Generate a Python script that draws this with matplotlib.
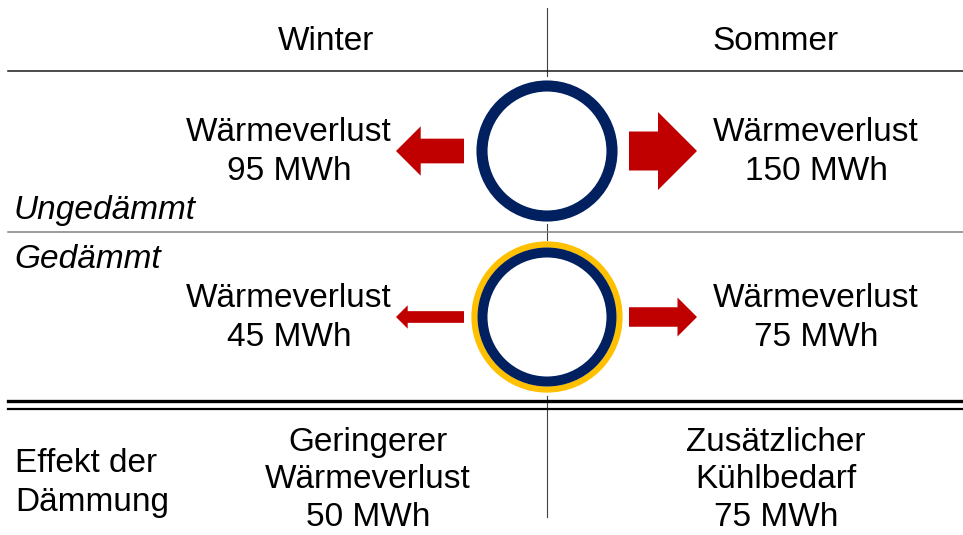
import matplotlib.pyplot as plt
from matplotlib.patches import Circle

plt.rcParams['font.family'] = ['Liberation Sans', 'DejaVu Sans']

seasons = ["Winter", "Sommer"]
row_labels = ["Ungedämmt", "Gedämmt"]
loss_winter = [95, 45]      # MWh
loss_summer = [150, 75]     # MWh
effect_labels = ["Geringerer\nWärmeverlust", "Zusätzlicher\nKühlbedarf"]
effect_values = [50, 75]    # MWh
effect_title = "Effekt der\nDämmung"

navy = "#002060"
gold = "#FFC000"
red = "#C00000"
fs = 24
ls = 1.32

fig = plt.figure(figsize=(9.63, 5.35), dpi=100)
ax = fig.add_axes([0, 0, 1, 1])
ax.set_xlim(0, 963)
ax.set_ylim(535, 0)
ax.axis('off')

cx = 547
row_y = [151, 317]

# grid lines
ax.plot([cx, cx], [8, 76], color="#404040", lw=0.8)
ax.plot([cx, cx], [224, 240], color="#404040", lw=0.8)
ax.plot([cx, cx], [396, 517], color="#404040", lw=0.8)
ax.plot([8, 963], [71, 71], color="#1a1a1a", lw=1.1)
ax.plot([8, 963], [232, 232], color="#808080", lw=1.1)
ax.plot([8, 963], [401, 401], color="black", lw=2.4)
ax.plot([8, 963], [409, 409], color="black", lw=1.6)

# header
ax.text(326, 42, seasons[0], ha='center', va='center', fontsize=fs)
ax.text(776, 42, seasons[1], ha='center', va='center', fontsize=fs)

# circles
ax.add_patch(Circle((cx, row_y[0]), 65, facecolor='white', edgecolor=navy, lw=8, zorder=3))
ax.add_patch(Circle((cx, row_y[1]), 72.5, facecolor='white', edgecolor=gold, lw=4.5, zorder=3))
ax.add_patch(Circle((cx, row_y[1]), 64.5, facecolor='white', edgecolor=navy, lw=7.2, zorder=4))

# arrows, width scaled by heat loss
k = 0.26
for i, y in enumerate(row_y):
    for val, x0, d in [(loss_winter[i], 464, -68), (loss_summer[i], 629, 68)]:
        w = k * val
        ax.arrow(x0, y, d, 0, width=w, head_width=2 * w, head_length=w,
                 length_includes_head=True, color=red, lw=0, zorder=3)
    ax.text(289, y + 1, f"Wärmeverlust\n{loss_winter[i]} MWh", ha='center', va='center',
            fontsize=fs, linespacing=ls)
    ax.text(816, y + 1, f"Wärmeverlust\n{loss_summer[i]} MWh", ha='center', va='center',
            fontsize=fs, linespacing=ls)

ax.text(14, 210, row_labels[0], ha='left', va='center', fontsize=fs, style='italic')
ax.text(14, 260, row_labels[1], ha='left', va='center', fontsize=fs, style='italic')

# bottom row
ax.text(15, 483, effect_title, ha='left', va='center', fontsize=fs, linespacing=ls)
ax.text(368, 480, f"{effect_labels[0]}\n{effect_values[0]} MWh", ha='center', va='center',
        fontsize=fs, linespacing=1.28)
ax.text(776, 480, f"{effect_labels[1]}\n{effect_values[1]} MWh", ha='center', va='center',
        fontsize=fs, linespacing=1.28)

fig.savefig("out.png", dpi=100, facecolor='white')
